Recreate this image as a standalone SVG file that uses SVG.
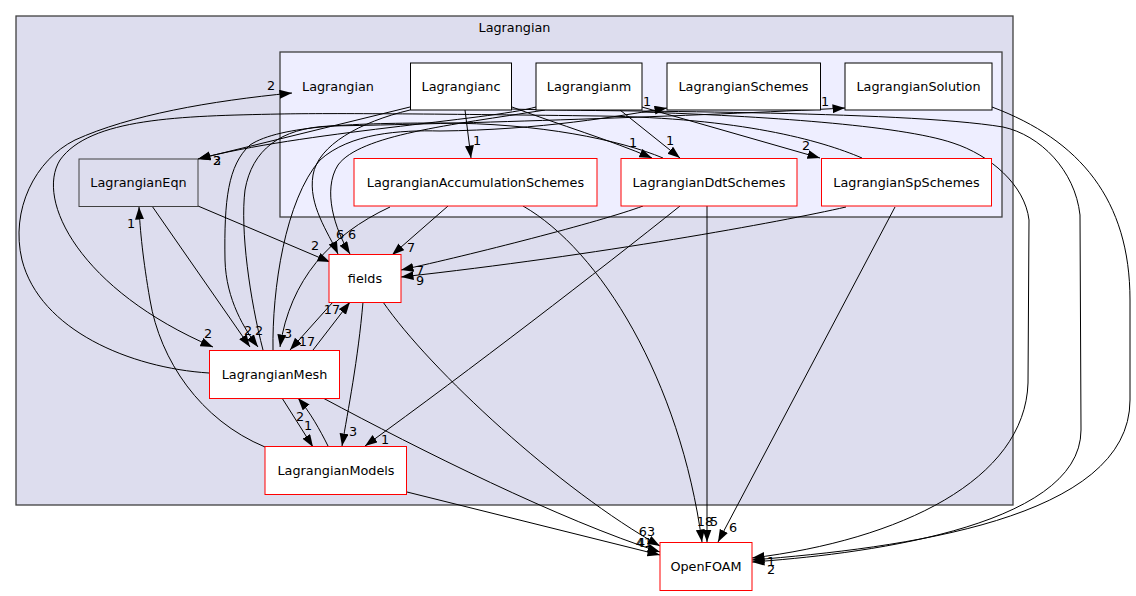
<svg xmlns="http://www.w3.org/2000/svg" width="1136" height="596" viewBox="0 0 1136 596">
<style>
text{font-family:"DejaVu Sans","Liberation Sans",sans-serif;font-size:12.8px;fill:#000;text-anchor:middle}
.e{fill:none;stroke:#000;stroke-width:1}
.nb{fill:#fff;stroke:#000;stroke-width:1}
.nr{fill:#fff;stroke:#f00;stroke-width:1}
</style>
<defs>
<marker id="a" markerWidth="13" markerHeight="10" refX="12.5" refY="4.5" orient="auto" markerUnits="userSpaceOnUse"><path d="M0,0 L12.5,4.5 L0,9 z" fill="#000"/></marker>
</defs>
<rect width="1136" height="596" fill="#fff"/>
<g id="cluster-outer">
<rect x="16" y="16" width="997" height="489" fill="#ddddee" stroke="#404040" stroke-width="1.3"/>
<text x="514.5" y="32">Lagrangian</text>
</g>
<g id="cluster-inner">
<rect x="280" y="52" width="722" height="165" fill="#eeeeff" stroke="#404040" stroke-width="1.3"/>
</g>
<g id="connectors">
<path class="e" marker-end="url(#a)" d="M209,373 C130,368 40,330 22,260 C10,210 35,160 75,140 C130,115 210,101 292,93"/>
<path class="e" marker-end="url(#a)" d="M410,107 L198,159"/>
<path class="e" marker-end="url(#a)" d="M536,107 C490,120 300,132 198,159"/>
<path class="e" marker-end="url(#a)" d="M410,110 C360,122 318,145 313,175 C308,205 328,232 338,254"/>
<path class="e" marker-end="url(#a)" d="M545,110 C450,125 360,135 338,165 C322,190 335,230 350,254"/>
<path class="e" marker-end="url(#a)" d="M198,206 L330,262"/>
<path class="e" marker-end="url(#a)" d="M448,206 L392,255"/>
<path class="e" marker-end="url(#a)" d="M643,206 C600,222 470,255 401,270"/>
<path class="e" marker-end="url(#a)" d="M846,207 C780,222 600,255 401,277"/>
<path class="e" marker-end="url(#a)" d="M465,110 L471,158"/>
<path class="e" marker-end="url(#a)" d="M512,107 C560,125 610,140 652,158"/>
<path class="e" marker-end="url(#a)" d="M620,110 L680,158"/>
<path class="e" marker-end="url(#a)" d="M642,107 L820,158"/>
<path class="e" marker-end="url(#a)" d="M265,447 C200,420 160,360 150,300 C143,260 140,230 139,207"/>
<path class="e" marker-end="url(#a)" d="M152,206 L250,347"/>
<path class="e" marker-end="url(#a)" d="M333,302 L290,350"/>
<path class="e" marker-end="url(#a)" d="M313,350 L350,302"/>
<path class="e" marker-end="url(#a)" d="M390,207 C330,235 290,280 280,347"/>
<path class="e" marker-end="url(#a)" d="M663,158 C620,140 540,123 440,123 C360,123 280,125 250,145 C228,165 224,200 225,260 C226,300 245,330 258,347"/>
<path class="e" marker-end="url(#a)" d="M862,158 C820,140 740,118 600,116 C450,114 330,113 280,114 C180,116 90,118 60,160 C35,200 80,290 213,347"/>
<path class="e" marker-end="url(#a)" d="M263,350 C250,300 240,230 245,190 C252,150 280,128 330,126 C450,124 700,116 845,108"/>
<path class="e" marker-end="url(#a)" d="M273,350 C272,290 285,200 320,160 C350,133 400,130 440,131 C540,130 620,116 667,108"/>
<path class="e" marker-end="url(#a)" d="M511,109 C600,112 900,110 1003,127 C1040,135 1075,170 1080,215 L1081,430 C1081,530 850,555 752,562"/>
<path class="e" marker-end="url(#a)" d="M642,112 C760,116 900,125 953,143 C990,155 1025,185 1029,220 L1028,383 C1025,480 900,540 752,558"/>
<path class="e" marker-end="url(#a)" d="M992,107 C1080,140 1130,200 1130,300 L1130,400 C1130,520 900,548 752,560"/>
<path class="e" marker-end="url(#a)" d="M383,302 C430,370 560,490 660,546"/>
<path class="e" marker-end="url(#a)" d="M323,398 C420,450 560,520 660,552"/>
<path class="e" marker-end="url(#a)" d="M407,492 L660,555"/>
<path class="e" marker-end="url(#a)" d="M523,206 C600,250 680,380 702,542"/>
<path class="e" marker-end="url(#a)" d="M707,206 L707,542"/>
<path class="e" marker-end="url(#a)" d="M895,207 L718,542"/>
<path class="e" marker-end="url(#a)" d="M363,302 C358,360 348,410 342,446"/>
<path class="e" marker-end="url(#a)" d="M680,206 C600,270 470,370 365,446"/>
<path class="e" marker-end="url(#a)" d="M282,398 L313,447"/>
<path class="e" marker-end="url(#a)" d="M328,446 C320,430 310,412 298,398"/>
<text x="271" y="90">2</text>
<text x="217" y="165">2</text>
<text x="217" y="165">3</text>
<text x="340" y="239">6</text>
<text x="352" y="239">6</text>
<text x="315" y="250">2</text>
<text x="411" y="252">7</text>
<text x="420" y="275">7</text>
<text x="420" y="285">9</text>
<text x="477" y="145">1</text>
<text x="633" y="147">1</text>
<text x="670" y="145">1</text>
<text x="806" y="150">2</text>
<text x="647" y="106">1</text>
<text x="825" y="106">1</text>
<text x="131" y="228">1</text>
<text x="248" y="335">2</text>
<text x="259" y="335">2</text>
<text x="208" y="338">2</text>
<text x="288" y="338">3</text>
<text x="307" y="346">17</text>
<text x="332" y="314">17</text>
<text x="353" y="436">3</text>
<text x="385" y="444">1</text>
<text x="308" y="430">1</text>
<text x="300" y="421">2</text>
<text x="647" y="536">63</text>
<text x="644" y="547">41</text>
<text x="641" y="547">4</text>
<text x="705" y="526">18</text>
<text x="714" y="526">5</text>
<text x="733" y="532">6</text>
<text x="771" y="566">1</text>
<text x="771" y="574">2</text>
</g>
<g id="n-Lagrangian"><text x="338" y="90.5">Lagrangian</text></g>
<g id="n-Lagrangianc"><rect class="nb" x="410.5" y="63" width="101" height="47"/><text x="461" y="91">Lagrangianc</text></g>
<g id="n-Lagrangianm"><rect class="nb" x="536" y="63" width="106" height="47"/><text x="589" y="91">Lagrangianm</text></g>
<g id="n-LagrangianSchemes"><rect class="nb" x="667" y="63" width="153.5" height="47"/><text x="743.5" y="91">LagrangianSchemes</text></g>
<g id="n-LagrangianSolution"><rect class="nb" x="845" y="63" width="147" height="47"/><text x="918.5" y="91">LagrangianSolution</text></g>
<g id="n-LagrangianAccumulationSchemes"><rect class="nr" x="354" y="158.5" width="243" height="47.5"/><text x="475.5" y="186.5">LagrangianAccumulationSchemes</text></g>
<g id="n-LagrangianDdtSchemes"><rect class="nr" x="621" y="158.5" width="176" height="47.5"/><text x="709" y="186.5">LagrangianDdtSchemes</text></g>
<g id="n-LagrangianSpSchemes"><rect class="nr" x="821.5" y="158.5" width="170" height="47.5"/><text x="906.5" y="186.5">LagrangianSpSchemes</text></g>
<g id="n-LagrangianEqn"><rect x="79" y="159" width="119" height="47.5" fill="#ddddee" stroke="#404040" stroke-width="1"/><text x="138.5" y="187">LagrangianEqn</text></g>
<g id="n-fields"><rect class="nr" x="329" y="254.5" width="72" height="48"/><text x="365" y="283">fields</text></g>
<g id="n-LagrangianMesh"><rect class="nr" x="209.5" y="350.5" width="130" height="48"/><text x="274.5" y="379">LagrangianMesh</text></g>
<g id="n-LagrangianModels"><rect class="nr" x="265" y="446.5" width="141.5" height="48"/><text x="336" y="475">LagrangianModels</text></g>
<g id="n-OpenFOAM"><rect class="nr" x="660" y="542.5" width="92" height="48"/><text x="706" y="571">OpenFOAM</text></g>
</svg>
